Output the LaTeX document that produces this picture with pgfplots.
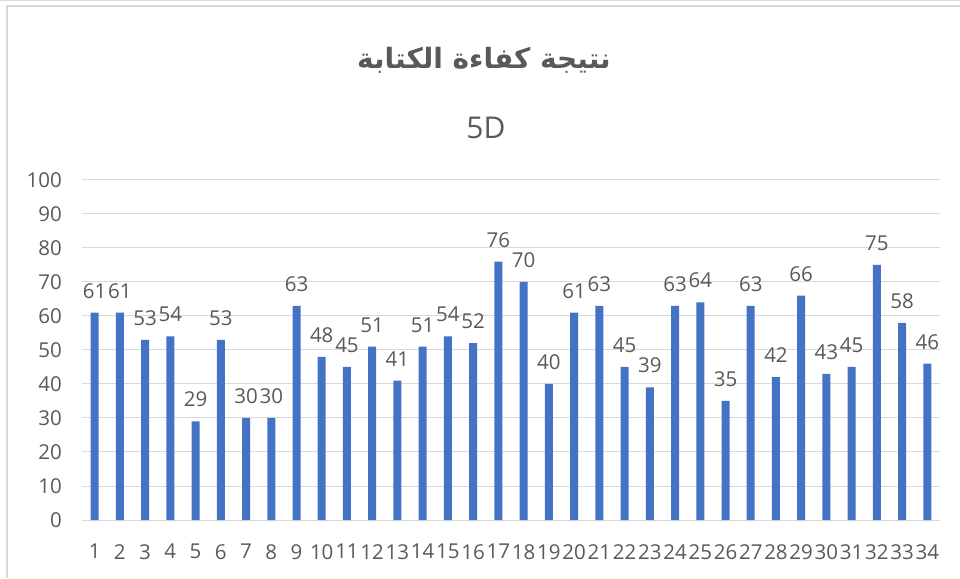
\documentclass[border=0pt]{standalone}
\usepackage{pgfplots}
\pgfplotsset{compat=1.18}
\usepackage{fontspec}
\setmainfont{Open Sans}
\newfontfamily\arabicfont[Script=Arabic]{DejaVu Sans}
\TeXXeTstate=1
\definecolor{barblue}{HTML}{4472C4}
\definecolor{txt}{HTML}{595959}
\definecolor{gridc}{HTML}{D9D9D9}
\pgfplotstableread{
x y
1 61
2 61
3 53
4 54
5 29
6 53
7 30
8 30
9 63
10 48
11 45
12 51
13 41
14 51
15 54
16 52
17 76
18 70
19 40
20 61
21 63
22 45
23 39
24 63
25 64
26 35
27 63
28 42
29 66
30 43
31 45
32 75
33 58
34 46
}\data
\begin{document}
\begin{tikzpicture}[x=1pt,y=1pt]
\useasboundingbox (0,0) rectangle (960,578);
\draw[gridc,line width=1.5pt] (7,0) -- (7,572) -- (960,572);
\draw[gridc,line width=1pt] (0,577.5) -- (960,577.5);
\node[font=\arabicfont\bfseries\fontsize{28}{34}\selectfont, text=txt] at (484,518) {\beginR نتيجة كفاءة الكتابة\endR};
\node[font=\fontsize{30}{36}\selectfont, text=txt] at (486,450) {5D};
\begin{axis}[at={(82pt,58pt)}, anchor=south west, scale only axis,
  width=858pt, height=340pt,
  ymin=0, ymax=100, xmin=0.5, xmax=34.5,
  ytick={0,10,...,100}, xtick={1,...,34},
  ybar, bar width=8pt,
  axis line style={draw=none},
  ymajorgrids, grid style={gridc, line width=1pt},
  major tick length=0pt,
  tick label style={font=\fontsize{20.5}{24}\selectfont, text=txt, inner sep=0pt},
  yticklabel shift=20pt, xticklabel shift=24pt,
  /pgf/number format/assume math mode=true,
  nodes near coords,
  nodes near coords style={font=\fontsize{20.5}{24}\selectfont, text=txt, inner sep=0pt, anchor=south, yshift=14pt},
  clip=false]
\addplot[fill=barblue, draw=none] table[x=x,y=y] {\data};
\end{axis}
\end{tikzpicture}
\end{document}
